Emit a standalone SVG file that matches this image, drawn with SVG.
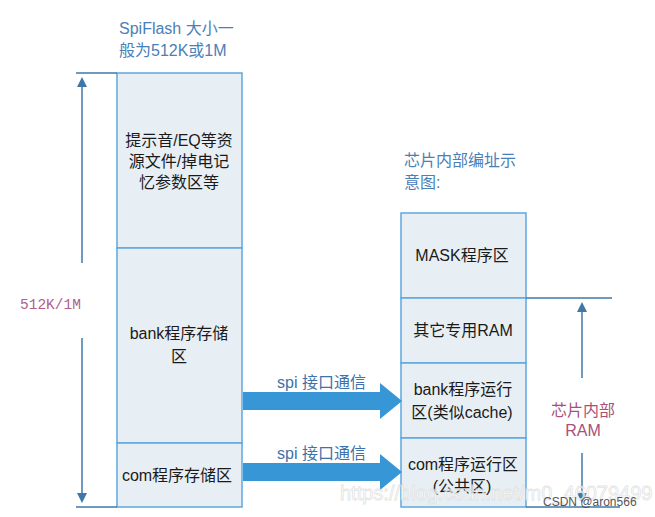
<svg xmlns="http://www.w3.org/2000/svg" width="655" height="517" viewBox="0 0 655 517">
<style>
.box{fill:#e8eff4;stroke:#5ea8de;stroke-width:1.5}
.t{font-family:"Liberation Sans","Noto Sans CJK SC",sans-serif;font-size:16px;fill:#1a1a1a;text-anchor:middle}
.cap{font-family:"Liberation Sans","Noto Sans CJK SC",sans-serif;font-size:16px;fill:#4a80b8}
.spi{font-family:"Liberation Sans","Noto Sans CJK SC",sans-serif;font-size:16px;fill:#3f72a8}
.dim{stroke:#3f78a8;stroke-width:1.5;fill:none}
.ram{font-family:"Liberation Sans","Noto Sans CJK SC",sans-serif;font-size:16px;fill:#a8507a;text-anchor:middle}
.arrow{fill:#3796d6}
</style>
<defs>
<marker id="ah" markerWidth="10" markerHeight="10" refX="5" refY="5" orient="auto" markerUnits="userSpaceOnUse">
<path d="M0,0 L10,5 L0,10 Z" fill="#3f78a8"/>
</marker>
</defs>
<rect width="655" height="517" fill="#fff"/>
<g id="title-left">
<text class="cap" x="119" y="34">SpiFlash 大小一</text>
<text class="cap" x="119" y="56">般为512K或1M</text>
</g>
<g id="title-right">
<text class="cap" x="404" y="166">芯片内部编址示</text>
<text class="cap" x="404" y="188">意图:</text>
</g>
<g id="flash-res">
<rect class="box" x="117" y="73" width="125" height="175"/>
<text class="t" x="179" y="146">提示音/EQ等资</text>
<text class="t" x="179" y="167">源文件/掉电记</text>
<text class="t" x="179" y="188">忆参数区等</text>
</g>
<g id="flash-bank">
<rect class="box" x="117" y="248" width="125" height="195"/>
<text class="t" x="179" y="339">bank程序存储</text>
<text class="t" x="179" y="362">区</text>
</g>
<g id="flash-com">
<rect class="box" x="117" y="443" width="125" height="64"/>
<text class="t" x="177" y="481">com程序存储区</text>
</g>
<g id="ram-mask">
<rect class="box" x="401" y="213" width="125" height="85"/>
<text class="t" x="462" y="261">MASK程序区</text>
</g>
<g id="ram-other">
<rect class="box" x="401" y="298" width="125" height="65"/>
<text class="t" x="463" y="336">其它专用RAM</text>
</g>
<g id="ram-bank">
<rect class="box" x="401" y="363" width="125" height="75"/>
<text class="t" x="463" y="395">bank程序运行</text>
<text class="t" x="462" y="418">区(类似cache)</text>
</g>
<g id="ram-com">
<rect class="box" x="401" y="438" width="125" height="69"/>
<text class="t" x="463" y="470">com程序运行区</text>
<text class="t" x="462" y="492">(公共区)</text>
</g>
<g id="connectors">
<line class="dim" x1="76" y1="73" x2="117" y2="73"/>
<line class="dim" x1="76" y1="507" x2="117" y2="507"/>
<line class="dim" x1="82" y1="263" x2="82" y2="82" marker-end="url(#ah)"/>
<line class="dim" x1="82" y1="338" x2="82" y2="498" marker-end="url(#ah)"/>
<line class="dim" x1="526" y1="298" x2="612" y2="298"/>
<line class="dim" x1="526" y1="507" x2="620" y2="507"/>
<line class="dim" x1="582" y1="378" x2="582" y2="307" marker-end="url(#ah)"/>
<line class="dim" x1="582" y1="453" x2="582" y2="498" marker-end="url(#ah)"/>
<path class="arrow" d="M243,392 L380,392 L380,383 L402,401 L380,419 L380,410 L243,410 Z"/>
<path class="arrow" d="M243,463 L380,463 L380,454 L402,472 L380,490 L380,481 L243,481 Z"/>
</g>
<g id="labels">
<text class="spi" x="277" y="388">spi 接口通信</text>
<text class="spi" x="277" y="459">spi 接口通信</text>
<text x="20" y="309" font-family="Liberation Mono, monospace" font-size="14.5" fill="#b0608e">512K/1M</text>
<text class="ram" x="583" y="416">芯片内部</text>
<text class="ram" x="583" y="436">RAM</text>
</g>
<g id="watermark">
<text x="340" y="500" font-family="Liberation Sans, sans-serif" font-size="20" fill="#ffffff" stroke="#dddddd" stroke-width="0.8" opacity="0.8">https://blog.csdn.net/m0_46079499</text>
<text x="543" y="506" font-family="Liberation Sans, sans-serif" font-size="12" fill="#555">CSDN @aron566</text>
</g>
</svg>
